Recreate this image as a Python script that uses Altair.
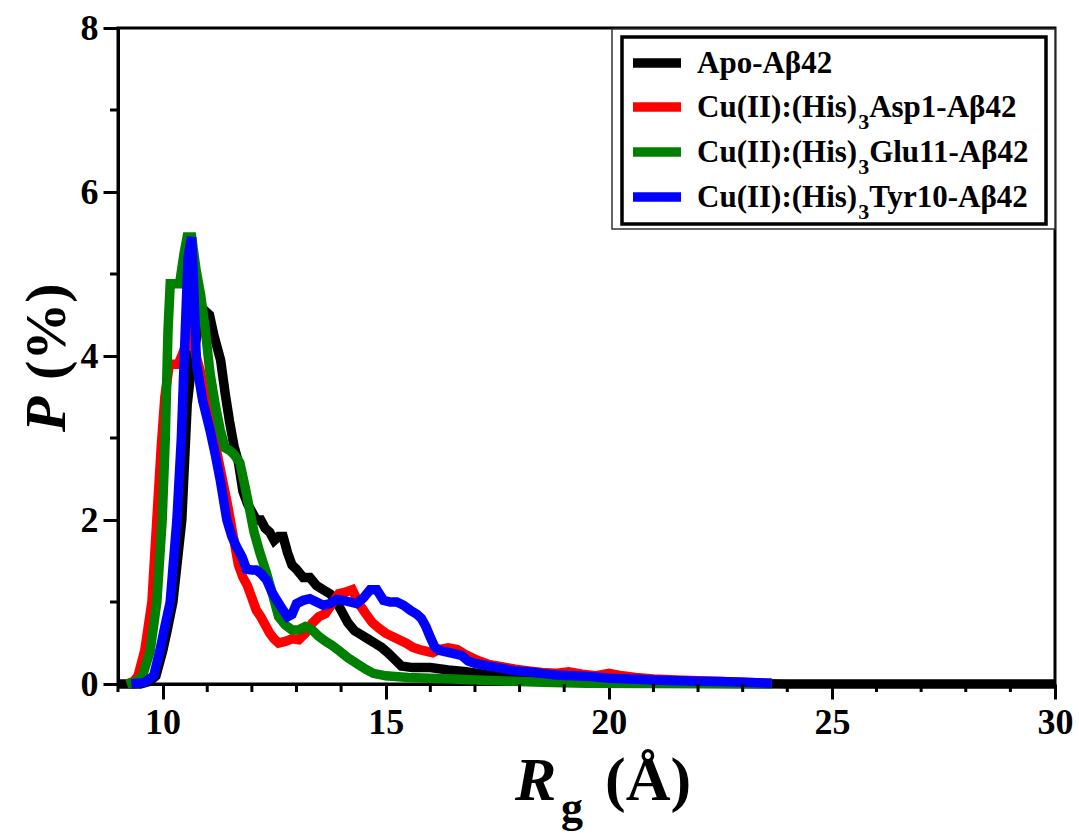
import altair as alt
import pandas as pd

# ---------------- data ----------------
SERIES = ["Apo-Aβ42", "Cu(II):(His)3Asp1-Aβ42", "Cu(II):(His)3Glu11-Aβ42", "Cu(II):(His)3Tyr10-Aβ42"]
COLORS = ["#000000", "#ff0000", "#008000", "#0000ff"]

APO = [(9.0, 0), (9.5, 0), (9.7, 0.03), (9.85, 0.1), (10.0, 0.4), (10.1, 0.65), (10.23, 1.0), (10.33, 1.5),
       (10.43, 2.0), (10.55, 3.4), (10.65, 3.9), (10.75, 4.2), (10.85, 4.45), (10.95, 4.55), (11.05, 4.5),
       (11.15, 4.25), (11.3, 3.95), (11.4, 3.55), (11.5, 3.2), (11.6, 2.9), (11.7, 2.7), (11.8, 2.35),
       (11.9, 2.2), (12.0, 2.1), (12.1, 2.0), (12.2, 2.0), (12.3, 1.9), (12.4, 1.85), (12.5, 1.75),
       (12.6, 1.8), (12.7, 1.8), (12.8, 1.6), (12.9, 1.45), (13.0, 1.4), (13.15, 1.3), (13.3, 1.3),
       (13.45, 1.2), (13.6, 1.15), (13.75, 1.1), (13.85, 1.05), (14.0, 0.9), (14.15, 0.75), (14.3, 0.65),
       (14.45, 0.6), (14.6, 0.55), (14.75, 0.5), (14.9, 0.45), (15.05, 0.38), (15.2, 0.3), (15.35, 0.22),
       (15.6, 0.2), (16.0, 0.2), (16.4, 0.17), (16.8, 0.15), (17.3, 0.11), (17.8, 0.08), (18.3, 0.06),
       (19.0, 0.04), (20.0, 0.03), (21.0, 0.02), (22.0, 0.01), (23.0, 0.005), (24.0, 0), (30.0, 0)]

ASP1 = [(9.2, 0), (9.35, 0.03), (9.45, 0.1), (9.6, 0.41), (9.76, 1.0), (9.87, 2.0), (9.97, 2.9), (10.05, 3.5),
        (10.15, 3.9), (10.35, 3.9), (10.5, 4.1), (10.65, 4.28), (10.75, 4.0), (10.85, 3.8), (11.0, 3.35),
        (11.15, 3.0), (11.3, 2.6), (11.45, 2.2), (11.6, 1.75), (11.7, 1.45), (11.8, 1.3), (11.9, 1.2),
        (12.0, 1.05), (12.1, 0.9), (12.2, 0.82), (12.3, 0.72), (12.4, 0.62), (12.5, 0.55), (12.6, 0.5),
        (12.75, 0.52), (12.9, 0.55), (13.05, 0.54), (13.2, 0.62), (13.35, 0.74), (13.5, 0.82), (13.65, 0.86),
        (13.8, 0.98), (13.95, 1.1), (14.1, 1.12), (14.25, 1.15), (14.4, 0.98), (14.55, 0.86), (14.7, 0.75),
        (14.85, 0.68), (15.0, 0.62), (15.15, 0.58), (15.3, 0.54), (15.45, 0.5), (15.6, 0.45), (15.75, 0.42),
        (15.9, 0.4), (16.05, 0.38), (16.2, 0.42), (16.4, 0.44), (16.6, 0.42), (16.75, 0.37), (16.9, 0.33),
        (17.05, 0.29), (17.3, 0.24), (17.6, 0.21), (17.9, 0.18), (18.2, 0.16), (18.5, 0.14), (18.8, 0.13),
        (19.1, 0.15), (19.4, 0.12), (19.7, 0.1), (20.0, 0.13), (20.3, 0.1), (20.6, 0.08), (21.0, 0.06),
        (21.5, 0.05), (22.0, 0.04), (22.5, 0.03), (23.0, 0.02), (23.65, 0.01)]

GLU11 = [(9.2, 0), (9.4, 0.03), (9.55, 0.1), (9.72, 0.4), (9.87, 1.0), (9.99, 2.0), (10.06, 3.0), (10.12, 4.3),
         (10.17, 4.88), (10.38, 4.88), (10.48, 5.25), (10.55, 5.45), (10.65, 5.45), (10.75, 5.05), (10.85, 4.75),
         (10.95, 4.35), (11.06, 3.8), (11.18, 3.4), (11.29, 3.1), (11.4, 2.88), (11.5, 2.85), (11.6, 2.8),
         (11.73, 2.7), (11.85, 2.4), (11.96, 2.1), (12.05, 1.85), (12.18, 1.6), (12.33, 1.35), (12.48, 1.06),
         (12.6, 0.82), (12.75, 0.72), (12.9, 0.66), (13.05, 0.66), (13.2, 0.7), (13.35, 0.66), (13.5, 0.58),
         (13.65, 0.52), (13.8, 0.47), (13.97, 0.4), (14.15, 0.32), (14.35, 0.25), (14.55, 0.18), (14.72, 0.13),
         (15.0, 0.1), (15.5, 0.08), (16.0, 0.07), (16.5, 0.06), (17.0, 0.05), (17.5, 0.04), (18.0, 0.03),
         (18.5, 0.02), (19.5, 0.01), (21.0, 0.005), (23.65, 0)]

TYR10 = [(9.3, 0), (9.6, 0.02), (9.8, 0.1), (9.94, 0.41), (10.05, 0.7), (10.17, 1.0), (10.32, 2.0), (10.42, 3.0),
         (10.5, 4.2), (10.57, 5.2), (10.65, 5.45), (10.7, 4.8), (10.76, 3.9), (10.9, 3.45), (11.06, 3.1),
         (11.18, 2.8), (11.29, 2.49), (11.44, 2.0), (11.55, 1.8), (11.66, 1.67), (11.78, 1.55), (11.88, 1.4),
         (12.0, 1.39), (12.1, 1.39), (12.2, 1.35), (12.33, 1.27), (12.45, 1.12), (12.56, 1.02), (12.7, 0.9),
         (12.8, 0.82), (12.9, 0.85), (13.0, 0.98), (13.15, 1.02), (13.3, 1.04), (13.45, 1.0), (13.6, 0.96),
         (13.75, 0.98), (13.9, 1.03), (14.05, 1.02), (14.2, 1.0), (14.35, 0.98), (14.5, 1.05), (14.65, 1.15),
         (14.8, 1.15), (14.95, 1.02), (15.1, 1.0), (15.25, 1.0), (15.4, 0.96), (15.55, 0.9), (15.7, 0.85),
         (15.8, 0.8), (15.9, 0.7), (16.0, 0.57), (16.1, 0.45), (16.2, 0.41), (16.45, 0.38), (16.7, 0.35),
         (16.85, 0.28), (17.0, 0.25), (17.3, 0.22), (17.6, 0.19), (17.9, 0.16), (18.2, 0.15), (18.5, 0.13),
         (18.8, 0.11), (19.2, 0.1), (19.6, 0.09), (20.0, 0.07), (20.5, 0.06), (21.0, 0.05), (21.5, 0.04),
         (22.0, 0.035), (22.5, 0.03), (23.0, 0.02), (23.65, 0.01)]

X_MAJOR = [10, 15, 20, 25, 30]
X_MINOR = [9, 11, 12, 13, 14, 16, 17, 18, 19, 21, 22, 23, 24, 26, 27, 28, 29]
Y_MAJOR = [0, 2, 4, 6, 8]
Y_MINOR = [1, 3, 5, 7]

# ---------------- layout constants ----------------
W, H = 937, 656
OX, OY = 118, 28          # plot-area origin on the page
FONT = "Liberation Serif"
LW = 9.5

rows = []
for name, pts in zip(SERIES, [APO, ASP1, GLU11, TYR10]):
    for x, y in pts:
        rows.append({"series": name, "x": x, "y": y})
df = pd.DataFrame(rows)

xs = alt.Scale(domain=[9, 30], nice=False, zero=False)
ys = alt.Scale(domain=[0, 8], nice=False)

x_axis = alt.Axis(values=X_MAJOR, title=None, format="d", labelPadding=6)
y_axis = alt.Axis(values=Y_MAJOR, title=None, format="d", labelPadding=5)

layers = []
for name, col in zip(SERIES, COLORS):
    layers.append(
        alt.Chart(df).transform_filter(alt.datum.series == name)
        .mark_line(color=col, strokeWidth=LW, strokeJoin="miter", strokeCap="butt")
        .encode(x=alt.X("x:Q", scale=xs, axis=x_axis), y=alt.Y("y:Q", scale=ys, axis=y_axis))
    )

# minor ticks
xmin_df = pd.DataFrame({"x": X_MINOR})
ymin_df = pd.DataFrame({"y": Y_MINOR})
layers.append(alt.Chart(xmin_df).mark_rule(color="black", strokeWidth=3).encode(
    x=alt.X("x:Q", scale=xs, axis=x_axis), y=alt.value(H), y2=alt.value(H + 8)))
layers.append(alt.Chart(ymin_df).mark_rule(color="black", strokeWidth=3).encode(
    y=alt.Y("y:Q", scale=ys, axis=y_axis), x=alt.value(-8), x2=alt.value(0)))

one = pd.DataFrame({"k": [0]})

def txt(s, px, py, size, style="normal", angle=0, baseline="alphabetic"):
    return alt.Chart(one).mark_text(font=FONT, fontWeight="bold", fontStyle=style, fontSize=size,
                                    align="left", baseline=baseline, angle=angle, color="black").encode(
        x=alt.value(px - OX), y=alt.value(py - OY), text=alt.value(s))

def rect(x1, y1, x2, y2, sw, stroke, fill):
    kw = dict(stroke=stroke, strokeWidth=sw)
    if fill:
        kw["fill"] = fill
    else:
        kw["fillOpacity"] = 0
    return alt.Chart(one).mark_rect(**kw).encode(
        x=alt.value(x1 - OX), x2=alt.value(x2 - OX), y=alt.value(y1 - OY), y2=alt.value(y2 - OY))

# legend box
layers.append(rect(612, 29, 1055, 229, 1.5, "#333333", "white"))
layers.append(rect(622, 37, 1046, 224, 3.5, "black", "white"))

# Times-Bold advance widths (em) for placing label pieces
ADV = {'(': .333, ')': .333, ':': .333, 'C': .722, 'u': .556, 'I': .389, 'H': .778, 'i': .278, 's': .389}
def width(s, size):
    return sum(ADV.get(c, .5) for c in s) * size

LEG_Y = [63, 107, 152, 197]
LEG_F = 31
SUB_F = 22
pieces = [
    [("Apo-Aβ42", False)],
    [("Cu(II):(His)", False), ("3", True), ("Asp1-Aβ42", False)],
    [("Cu(II):(His)", False), ("3", True), ("Glu11-Aβ42", False)],
    [("Cu(II):(His)", False), ("3", True), ("Tyr10-Aβ42", False)],
]
for ry, col, parts in zip(LEG_Y, COLORS, pieces):
    layers.append(alt.Chart(one).mark_rule(color=col, strokeWidth=LW, strokeCap="butt").encode(
        x=alt.value(633 - OX), x2=alt.value(681 - OX), y=alt.value(ry - OY)))
    cx = 697
    for s, sub in parts:
        if sub:
            layers.append(txt(s, cx + 1, ry + 9 + 13, SUB_F))
            cx += width(s, SUB_F) + 1
        else:
            layers.append(txt(s, cx, ry + 10, LEG_F))
            cx += width(s, LEG_F)

# axis titles
layers.append(txt("P", 65, 432, 58, style="italic", angle=270))
layers.append(txt("(%)", 65, 380, 58, angle=270))
layers.append(txt("R", 515, 800, 62, style="italic"))
layers.append(txt("g", 561, 822, 44))
layers.append(txt("(Å)", 605, 800, 62))

chart = alt.layer(*layers).properties(
    width=W, height=H,
    autosize=alt.AutoSizeParams(type="none"),
    padding={"left": OX, "top": OY, "right": 1079 - OX - W, "bottom": 834 - OY - H},
    background="white",
).configure_view(stroke="black", strokeWidth=3).configure_axis(
    labelFont=FONT, labelFontWeight="bold", labelFontSize=36, labelColor="black",
    domainColor="black", domainWidth=3, tickColor="black", tickWidth=3, tickSize=15,
    grid=False, labelFlush=False, labelOverlap=False,
)

chart.save("out.html", embed_options={"renderer": "svg", "actions": False})
